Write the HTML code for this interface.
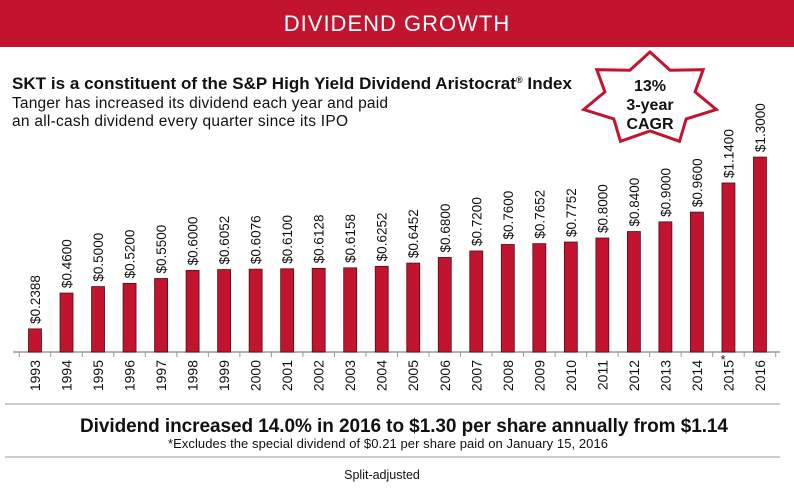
<!DOCTYPE html>
<html><head><meta charset="utf-8"><style>
body{margin:0;width:794px;height:483px;overflow:hidden;background:#fff;font-family:"Liberation Sans",sans-serif}
</style></head><body>
<svg width="794" height="483">
<rect x="0" y="0" width="794" height="47" fill="#c3142f"/>
<text x="397" y="25" text-anchor="middle" dominant-baseline="middle" fill="#fff" font-size="22" letter-spacing="1">DIVIDEND GROWTH</text>
<text x="12" y="89" font-size="17" font-weight="bold" fill="#111" textLength="560">SKT is a constituent of the S&amp;P High Yield Dividend Aristocrat<tspan font-size="9" dy="-6">®</tspan><tspan dy="6"> Index</tspan></text>
<text x="12" y="108" font-size="15.5" fill="#111" textLength="376">Tanger has increased its dividend each year and paid</text>
<text x="12" y="126" font-size="15.5" fill="#111" textLength="336">an all-cash dividend every quarter since its IPO</text>
<g id="star"></g>
<g id="chart"></g>
<line x1="5" y1="404" x2="780" y2="404" stroke="#bbb" stroke-width="1.5"/>
<text x="404" y="432" text-anchor="middle" font-size="19" font-weight="bold" fill="#111" textLength="648">Dividend increased 14.0% in 2016 to $1.30 per share annually from $1.14</text>
<text x="388" y="448" text-anchor="middle" font-size="13" fill="#111" textLength="440">*Excludes the special dividend of $0.21 per share paid on January 15, 2016</text>
<line x1="5" y1="457" x2="780" y2="457" stroke="#bbb" stroke-width="1.5"/>
<text x="382" y="479" text-anchor="middle" font-size="12.5" fill="#111">Split-adjusted</text>
</svg>
<script>
const years=["1993","1994","1995","1996","1997","1998","1999","2000","2001","2002","2003","2004","2005","2006","2007","2008","2009","2010","2011","2012","2013","2014","2015","2016"];
const dividends=[0.2388,0.46,0.50,0.52,0.55,0.60,0.6052,0.6076,0.61,0.6128,0.6158,0.6252,0.6452,0.68,0.72,0.76,0.7652,0.7752,0.80,0.84,0.90,0.96,1.14,1.30];
const valueLabels=["$0.2388","$0.4600","$0.5000","$0.5200","$0.5500","$0.6000","$0.6052","$0.6076","$0.6100","$0.6128","$0.6158","$0.6252","$0.6452","$0.6800","$0.7200","$0.7600","$0.7652","$0.7752","$0.8000","$0.8400","$0.9000","$0.9600","$1.1400","$1.3000"];
const NS="http://www.w3.org/2000/svg";
const g=document.getElementById('chart');
const base=352,dmin=0.096,k=161.9;
const x=i=>35+i*31.52;
const y=v=>base-(v-dmin)*k;
function mk(t,a,p){const e=document.createElementNS(NS,t);for(const n in a)e.setAttribute(n,a[n]);p.appendChild(e);return e;}
const ax=mk('line',{x1:13,y1:base,x2:780,y2:base,stroke:'#999','stroke-width':1.5},g);


for(let i=0;i<=years.length;i++){
 const t=mk('line',{x1:x(i)-15.76,y1:base,x2:x(i)-15.76,y2:base+5,stroke:'#999'},g);
 
 
}
years.forEach((yr,i)=>{
 const v=dividends[i],top=y(v);
 const b=mk('rect',{x:x(i)-6.5,y:top,width:13,height:base-top,fill:'#c3142f',stroke:'#4a1018','stroke-width':0.8},g);
 
 
 const l=mk('text',{x:0,y:0,transform:`translate(${x(i)+5},${top-5}) rotate(-90)`,'font-size':13.5,fill:'#111'},g);
 l.textContent=valueLabels[i];
 
 
 const yl=mk('text',{x:0,y:0,transform:`translate(${x(i)+5},${base+8}) rotate(-90)`,'font-size':14,fill:'#111','text-anchor':'end'},g);
 yl.textContent=yr;
 
 
});
const ast=mk('text',{x:x(22)-8,y:base+12,'font-size':13,fill:'#111'},g);
ast.textContent='*';


// star
const s=document.getElementById('star');
let pts=[];const cx=650,cy=99,Rx=68,Ry=47,ri=0.68,n=7;
for(let i=0;i<2*n;i++){const a=(-90+i*180/n)*Math.PI/180,f=i%2?ri:1;pts.push((cx+Rx*f*Math.cos(a)).toFixed(1)+','+(cy+Ry*f*Math.sin(a)).toFixed(1));}
const st=mk('polygon',{points:pts.join(' '),fill:'#fff',stroke:'#c3142f','stroke-width':3,'stroke-linejoin':'miter'},s);


[["13%",91],["3-year",110],["CAGR",129]].forEach(([t,yy])=>{
 const e=mk('text',{x:cx,y:yy,'text-anchor':'middle','font-size':16,'font-weight':'bold',fill:'#111'},s);
 e.textContent=t;
 
 
});
</script>
</body></html>
